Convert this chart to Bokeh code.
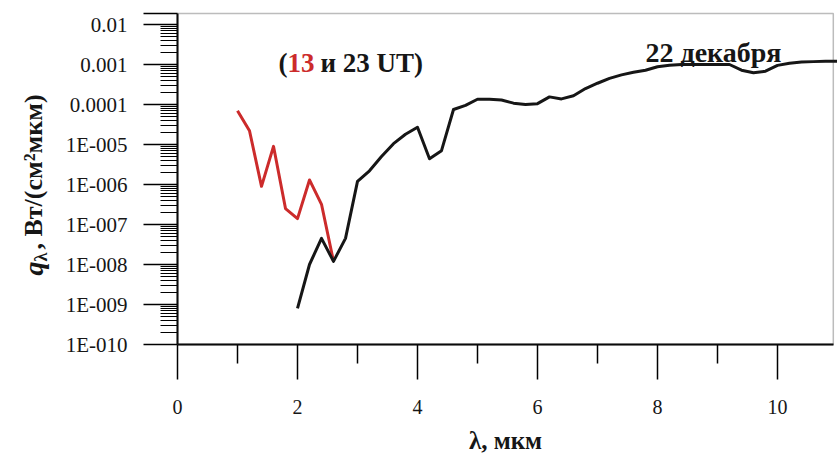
import math

from bokeh.embed import file_html
from bokeh.models import BoxAnnotation, FixedTicker, Label, LinearAxis, LogAxis, Range1d
from bokeh.plotting import figure
from bokeh.resources import INLINE

# Spectral flux density, 22 December
wavelength_23ut = [2.0, 2.2, 2.4, 2.6, 2.8, 3.0, 3.2, 3.4, 3.6, 3.8, 4.0,
                   4.2, 4.4, 4.6, 4.8, 5.0, 5.2, 5.4, 5.6, 5.8, 6.0,
                   6.2, 6.4, 6.6, 6.8, 7.0, 7.2, 7.4, 7.6, 7.8, 8.0,
                   8.2, 8.4, 8.6, 8.8, 9.0, 9.2, 9.4, 9.6, 9.8, 10.0,
                   10.2, 10.4, 10.6, 10.8, 11.0]
flux_23ut = [8e-10, 1e-8, 4.5e-8, 1.2e-8, 4.5e-8, 1.2e-6, 2.2e-6, 5e-6, 1.05e-5, 1.8e-5, 2.7e-5,
             4.4e-6, 7e-6, 7.5e-5, 9.5e-5, 1.35e-4, 1.35e-4, 1.3e-4, 1.08e-4, 1.0e-4, 1.05e-4,
             1.55e-4, 1.38e-4, 1.65e-4, 2.5e-4, 3.4e-4, 4.5e-4, 5.5e-4, 6.4e-4, 7.2e-4, 8.8e-4,
             9.6e-4, 1.0e-3, 1.0e-3, 1.0e-3, 1.0e-3, 1.0e-3, 7.2e-4, 6.2e-4, 6.8e-4, 9.5e-4,
             1.08e-3, 1.15e-3, 1.18e-3, 1.2e-3, 1.2e-3]

wavelength_13ut = [1.0, 1.2, 1.4, 1.6, 1.8, 2.0, 2.2, 2.4, 2.6]
flux_13ut = [7e-5, 2.2e-5, 9e-7, 9e-6, 2.5e-7, 1.4e-7, 1.3e-6, 3.2e-7, 1.2e-8]

x_ticks = [0, 2, 4, 6, 8, 10]
x_minor_ticks = [1, 3, 5, 7, 9]
y_ticks = [1e-2, 1e-3, 1e-4, 1e-5, 1e-6, 1e-7, 1e-8, 1e-9, 1e-10]
y_tick_labels = ["0.01", "0.001", "0.0001", "1E-005", "1E-006",
                 "1E-007", "1E-008", "1E-009", "1E-010"]
y_minor_ticks = [k * 10.0 ** e for e in range(-10, -2) for k in range(2, 10)]

# Canvas geometry: the frame fills the whole canvas and the axes are pinned
# at x = 0 and y = 1e-10, so titles can sit anywhere on the page.
W, H = 837, 454
ORIGIN_PX, ORIGIN_PY = 177, 344      # where (0, 1e-10) lands
PX_PER_UM = 60.0                     # horizontal pixels per micron
PX_PER_DECADE = 40.0                 # vertical pixels per decade
X_MAX = 10.93                        # right edge of the boxed plot area
LOG_MIN, LOG_MAX = -10.0, -1.725     # bottom / top of the boxed plot area
Y_TOP = 10 ** LOG_MAX

FONT = "Liberation Serif"
INK = "#161616"
RED = "#cc2b2b"


def sx(px):
    """Canvas pixel column -> data x."""
    return (px - ORIGIN_PX) / PX_PER_UM


def sy(py):
    """Canvas pixel row (from top) -> data y on the log scale."""
    return 10 ** ((ORIGIN_PY - py) / PX_PER_DECADE + LOG_MIN)


p = figure(width=W, height=H, min_border=0,
           y_axis_type="log", x_axis_location=None, y_axis_location=None,
           x_range=Range1d(sx(0), sx(W)), y_range=Range1d(sy(H), sy(0)),
           output_backend="svg", toolbar_location=None,
           background_fill_color="white", border_fill_color="white")
p.grid.visible = False
p.outline_line_color = None

# box around the plotting area (top and right edges show)
p.add_layout(BoxAnnotation(left=0, right=X_MAX, bottom=10 ** LOG_MIN, top=Y_TOP,
                           fill_alpha=0, line_color="#222222", line_width=1.5))

# x axis
xa = LinearAxis(fixed_location=10 ** LOG_MIN, bounds=(0, X_MAX),
                ticker=FixedTicker(ticks=x_ticks, minor_ticks=x_minor_ticks))
xa.axis_line_width = 2
xa.axis_line_color = "black"
xa.major_tick_in = 0
xa.major_tick_out = 35
xa.minor_tick_in = 0
xa.minor_tick_out = 19
xa.major_tick_line_width = 1.5
xa.minor_tick_line_width = 1.5
xa.major_label_standoff = 20
xa.major_label_text_font = FONT
xa.major_label_text_font_size = "20px"
xa.major_label_text_color = INK
p.add_layout(xa, "below")

# y axis; an unlabelled tick closes the box at its top edge
ya = LogAxis(fixed_location=0, bounds=(10 ** LOG_MIN, Y_TOP),
             ticker=FixedTicker(ticks=y_ticks + [Y_TOP], minor_ticks=y_minor_ticks))
overrides = dict(zip(y_ticks, y_tick_labels))
overrides[Y_TOP] = ""
ya.major_label_overrides = overrides
ya.axis_line_width = 2
ya.axis_line_color = "black"
ya.major_tick_in = 0
ya.major_tick_out = 34
ya.minor_tick_in = 0
ya.minor_tick_out = 17
ya.major_tick_line_width = 1.5
ya.minor_tick_line_width = 1.2
ya.major_label_standoff = 16
ya.major_label_text_font = FONT
ya.major_label_text_font_size = "21px"
ya.major_label_text_color = INK
p.add_layout(ya, "left")

# spectra
p.line(wavelength_13ut, flux_13ut, line_color=RED, line_width=3, line_join="round")
p.line(wavelength_23ut, flux_23ut, line_color=INK, line_width=3, line_join="round")


def add_text(text, px, py, size, color=INK, style="bold", angle=0.0, align="left"):
    p.add_layout(Label(x=sx(px), y=sy(py), text=text, text_font=FONT,
                       text_font_size=size, text_font_style=style,
                       text_color=color, angle=angle, text_align=align,
                       text_baseline="alphabetic"))


# captions
add_text("(", 278, 62, "27px")
add_text("13", 287, 62, "27px", color=RED)
add_text("и 23 UT)", 320, 62, "27px")
add_text("22 декабря", 645, 52, "28px")

# x axis title
add_text("λ, мкм", 505, 440, "25px", align="center")

# y axis title, rotated, built from pieces for the italic q and subscript λ
up = math.pi / 2
add_text("q", 33, 275, "28px", style="bold italic", angle=up)
add_text("λ", 40, 261, "18px", angle=up)
add_text(", Вт/(см²мкм)", 33, 249, "26px", angle=up)

open("out.html", "w").write(file_html(p, INLINE))
